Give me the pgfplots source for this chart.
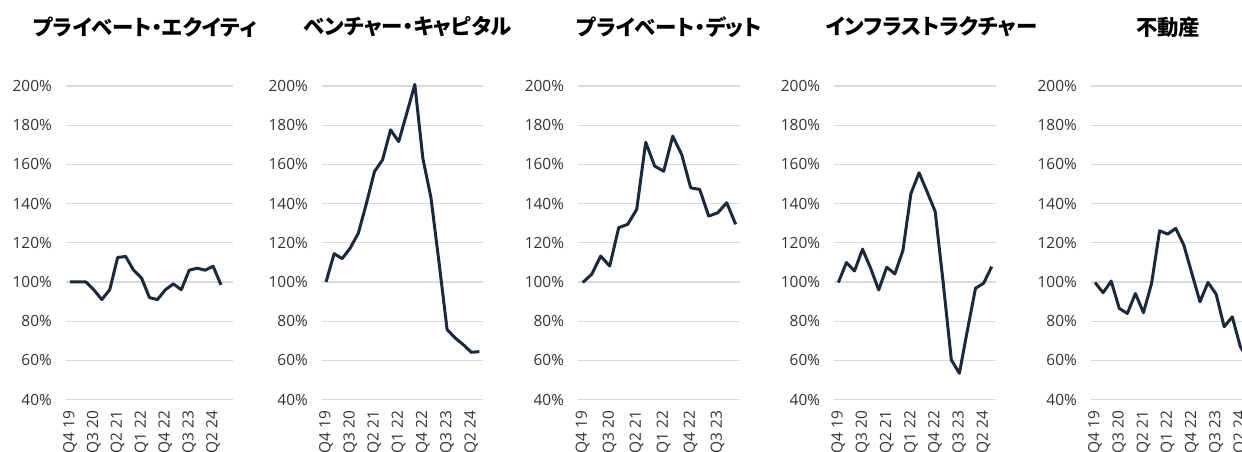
\documentclass[border=0pt]{standalone}
\usepackage{pgfplots}
\pgfplotsset{compat=1.18}
\usepackage{fontspec}
\setmainfont{Open Sans}
\newfontfamily\cjk[RawFeature=+palt]{Noto Sans CJK JP}
\definecolor{navy}{HTML}{172A3F}
\definecolor{gridc}{HTML}{D9D9D9}
\definecolor{labc}{HTML}{333333}
\pgfplotsset{
  panel/.style={
    scale only axis, anchor=south west, height=313.5bp,
    ymin=40, ymax=200, ytick={40,60,...,200},
    yticklabels={40\%,60\%,80\%,100\%,120\%,140\%,160\%,180\%,200\%},
    ymajorgrids, grid style={color=gridc, line width=1.2bp},
    axis line style={draw=none}, major tick length=0pt,
    tick label style={font=\fontsize{15.5}{15.5}\selectfont, text=labc},
    yticklabel style={anchor=east, inner ysep=0pt, inner xsep=14bp},
    xticklabel style={rotate=90, anchor=east, inner ysep=0pt, inner xsep=11bp},
    xtick={0,3,...,18},
    xticklabels={Q4 19,Q3 20,Q2 21,Q1 22,Q4 22,Q3 23,Q2 24},
    clip=false,
    title style={font=\cjk\bfseries\fontsize{21.5}{21.5}\selectfont, anchor=center, at={(0.5,1)}, yshift=53bp, inner sep=0pt},
  },
  ln/.style={navy, line width=3bp, line join=round, no marks},
}
\begin{document}
\begin{tikzpicture}[x=1bp,y=1bp]
\useasboundingbox (0,0) rectangle (1242,452);
\clip (0,0) rectangle (1242,452);
% Private equity
\begin{axis}[panel, at={(66bp,52.5bp)}, width=166.95bp, xmin=-0.5, xmax=20.5,
  title={プライベート・エクイティ}, title style={xshift=-4.5bp}]
\addplot[ln] coordinates {(0,100) (1,100) (2,100) (3,96) (4,91) (5,96) (6,112.5) (7,113) (8,106) (9,102) (10,92) (11,91) (12,96) (13,99) (14,96) (15,106) (16,107) (17,106) (18,108) (19,98.5)};
\end{axis}
% Venture capital
\begin{axis}[panel, at={(322bp,52.5bp)}, width=161.4bp, xmin=-0.5, xmax=19.5,
  title={ベンチャー・キャピタル}, title style={xshift=5bp}]
\addplot[ln] coordinates {(0,100) (1,114.4) (2,111.9) (3,117.3) (4,124.9) (5,140) (6,156.3) (7,162.3) (8,177.6) (9,171.6) (10,186) (11,200.8) (12,163) (13,143) (14,110) (15,75.7) (16,71.4) (17,68) (18,64.1) (19,64.4)};
\end{axis}
% Private debt
\begin{axis}[panel, at={(578.2bp,52.5bp)}, width=162bp, xmin=-0.5, xmax=17.5,
  xtick={0,3,...,15}, xticklabels={Q4 19,Q3 20,Q2 21,Q1 22,Q4 22,Q3 23},
  title={プライベート・デット}, title style={xshift=10bp}]
\addplot[ln] coordinates {(0,99.7) (1,103.9) (2,113.2) (3,108.1) (4,127.7) (5,129.4) (6,137) (7,171.3) (8,159.1) (9,156.5) (10,174.4) (11,165) (12,148) (13,147.2) (14,133.6) (15,135.3) (16,140.4) (17,129.4)};
\end{axis}
% Infrastructure
\begin{axis}[panel, at={(834.3bp,52.5bp)}, width=161.4bp, xmin=-0.5, xmax=19.5,
  title={インフラストラクチャー}, title style={xshift=16.5bp}]
\addplot[ln] coordinates {(0,99.7) (1,109.9) (2,105.6) (3,116.7) (4,107) (5,95.9) (6,107.5) (7,104.1) (8,116) (9,145.2) (10,155.7) (11,146) (12,135.9) (13,99.3) (14,60.2) (15,53.4) (16,75.5) (17,96.8) (18,99.3) (19,107.8)};
\end{axis}
% Real estate
\begin{axis}[panel, at={(1091bp,52.5bp)}, width=161.4bp, xmin=-0.5, xmax=19.5,
  title={不動産}, title style={xshift=-3.5bp}]
\addplot[ln] coordinates {(0,99.7) (1,94.5) (2,100.4) (3,86.5) (4,83.9) (5,94.1) (6,84.3) (7,99.2) (8,126.1) (9,124.4) (10,127.3) (11,118.8) (12,104.3) (13,89.9) (14,99.7) (15,93.8) (16,77.1) (17,82.2) (18,67) (19,60)};
\end{axis}
\end{tikzpicture}
\end{document}
